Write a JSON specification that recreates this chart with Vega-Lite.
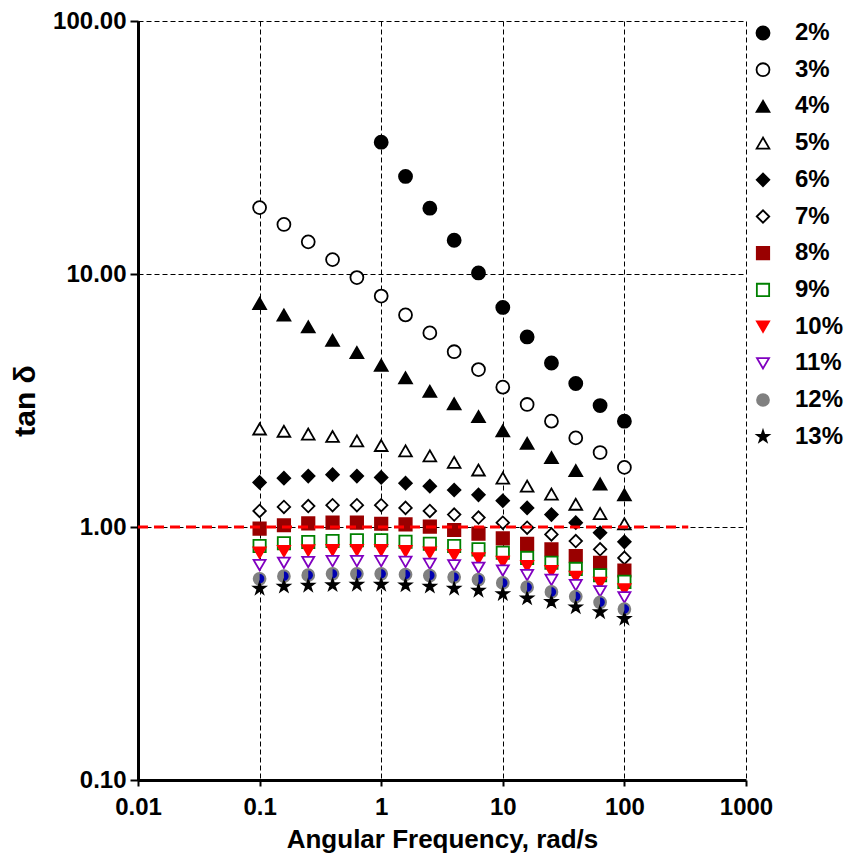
{
  "$schema": "https://vega.github.io/schema/vega-lite/v6.json",
  "width": 608,
  "height": 759,
  "autosize": {"type": "none"},
  "padding": {"left": 138, "top": 21, "right": 102, "bottom": 78},
  "background": "white",
  "config": {
    "view": {"stroke": null},
    "font": "Liberation Sans",
    "axis": {
      "domainColor": "black", "domainWidth": 3,
      "tickColor": "black", "tickWidth": 2,
      "grid": true, "gridColor": "black", "gridWidth": 1, "gridDash": [5, 3], "gridOpacity": 1,
      "labelColor": "black", "titleColor": "black",
      "labelFontWeight": "bold", "titleFontWeight": "bold"
    },
    "legend": {
      "title": null, "orient": "right", "offset": 5, "padding": 0,
      "labelFont": "Liberation Sans", "labelFontSize": 24, "labelFontWeight": "bold", "labelColor": "black",
      "labelOffset": 20, "rowPadding": 12.7, "symbolStrokeWidth": 1.8, "symbolOpacity": 1
    }
  },
  "datasets": {
    "pts": [
      {"s":"2%","f":1,"v":33.2},{"s":"2%","f":1.585,"v":24.3},{"s":"2%","f":2.512,"v":18.2},{"s":"2%","f":3.981,"v":13.6},{"s":"2%","f":6.31,"v":10.1},{"s":"2%","f":10,"v":7.38},{"s":"2%","f":15.85,"v":5.64},{"s":"2%","f":25.12,"v":4.45},{"s":"2%","f":39.81,"v":3.69},{"s":"2%","f":63.1,"v":3.02},{"s":"2%","f":100,"v":2.62},
      {"s":"3%","f":0.1,"v":18.3},{"s":"3%","f":0.1585,"v":15.7},{"s":"3%","f":0.2512,"v":13.4},{"s":"3%","f":0.3981,"v":11.4},{"s":"3%","f":0.631,"v":9.68},{"s":"3%","f":1,"v":8.18},{"s":"3%","f":1.585,"v":6.89},{"s":"3%","f":2.512,"v":5.85},{"s":"3%","f":3.981,"v":4.93},{"s":"3%","f":6.31,"v":4.19},{"s":"3%","f":10,"v":3.57},{"s":"3%","f":15.85,"v":3.05},{"s":"3%","f":25.12,"v":2.62},{"s":"3%","f":39.81,"v":2.25},{"s":"3%","f":63.1,"v":1.97},{"s":"3%","f":100,"v":1.72},
      {"s":"4%","f":0.1,"v":7.65},{"s":"4%","f":0.1585,"v":6.88},{"s":"4%","f":0.2512,"v":6.18},{"s":"4%","f":0.3981,"v":5.47},{"s":"4%","f":0.631,"v":4.89},{"s":"4%","f":1,"v":4.36},{"s":"4%","f":1.585,"v":3.89},{"s":"4%","f":2.512,"v":3.44},{"s":"4%","f":3.981,"v":3.07},{"s":"4%","f":6.31,"v":2.73},{"s":"4%","f":10,"v":2.40},{"s":"4%","f":15.85,"v":2.14},{"s":"4%","f":25.12,"v":1.88},{"s":"4%","f":39.81,"v":1.67},{"s":"4%","f":63.1,"v":1.48},{"s":"4%","f":100,"v":1.34},
      {"s":"5%","f":0.1,"v":2.44},{"s":"5%","f":0.1585,"v":2.39},{"s":"5%","f":0.2512,"v":2.33},{"s":"5%","f":0.3981,"v":2.28},{"s":"5%","f":0.631,"v":2.19},{"s":"5%","f":1,"v":2.10},{"s":"5%","f":1.585,"v":2.00},{"s":"5%","f":2.512,"v":1.91},{"s":"5%","f":3.981,"v":1.80},{"s":"5%","f":6.31,"v":1.68},{"s":"5%","f":10,"v":1.56},{"s":"5%","f":15.85,"v":1.45},{"s":"5%","f":25.12,"v":1.35},{"s":"5%","f":39.81,"v":1.23},{"s":"5%","f":63.1,"v":1.13},{"s":"5%","f":100,"v":1.03},
      {"s":"6%","f":0.1,"v":1.50},{"s":"6%","f":0.1585,"v":1.56},{"s":"6%","f":0.2512,"v":1.59},{"s":"6%","f":0.3981,"v":1.61},{"s":"6%","f":0.631,"v":1.59},{"s":"6%","f":1,"v":1.57},{"s":"6%","f":1.585,"v":1.49},{"s":"6%","f":2.512,"v":1.45},{"s":"6%","f":3.981,"v":1.40},{"s":"6%","f":6.31,"v":1.34},{"s":"6%","f":10,"v":1.27},{"s":"6%","f":15.85,"v":1.19},{"s":"6%","f":25.12,"v":1.12},{"s":"6%","f":39.81,"v":1.04},{"s":"6%","f":63.1,"v":0.949},{"s":"6%","f":100,"v":0.874},
      {"s":"7%","f":0.1,"v":1.157},{"s":"7%","f":0.1585,"v":1.20},{"s":"7%","f":0.2512,"v":1.21},{"s":"7%","f":0.3981,"v":1.22},{"s":"7%","f":0.631,"v":1.22},{"s":"7%","f":1,"v":1.22},{"s":"7%","f":1.585,"v":1.19},{"s":"7%","f":2.512,"v":1.157},{"s":"7%","f":3.981,"v":1.12},{"s":"7%","f":6.31,"v":1.09},{"s":"7%","f":10,"v":1.04},{"s":"7%","f":15.85,"v":0.994},{"s":"7%","f":25.12,"v":0.935},{"s":"7%","f":39.81,"v":0.880},{"s":"7%","f":63.1,"v":0.816},{"s":"7%","f":100,"v":0.755},
      {"s":"8%","f":0.1,"v":0.985},{"s":"8%","f":0.1585,"v":1.016},{"s":"8%","f":0.2512,"v":1.034},{"s":"8%","f":0.3981,"v":1.04},{"s":"8%","f":0.631,"v":1.04},{"s":"8%","f":1,"v":1.03},{"s":"8%","f":1.585,"v":1.025},{"s":"8%","f":2.512,"v":1.003},{"s":"8%","f":3.981,"v":0.973},{"s":"8%","f":6.31,"v":0.941},{"s":"8%","f":10,"v":0.902},{"s":"8%","f":15.85,"v":0.858},{"s":"8%","f":25.12,"v":0.816},{"s":"8%","f":39.81,"v":0.767},{"s":"8%","f":63.1,"v":0.722},{"s":"8%","f":100,"v":0.673},
      {"s":"9%","f":0.1,"v":0.841},{"s":"9%","f":0.1585,"v":0.862},{"s":"9%","f":0.2512,"v":0.872},{"s":"9%","f":0.3981,"v":0.880},{"s":"9%","f":0.631,"v":0.886},{"s":"9%","f":1,"v":0.886},{"s":"9%","f":1.585,"v":0.874},{"s":"9%","f":2.512,"v":0.858},{"s":"9%","f":3.981,"v":0.841},{"s":"9%","f":6.31,"v":0.816},{"s":"9%","f":10,"v":0.791},{"s":"9%","f":15.85,"v":0.755},{"s":"9%","f":25.12,"v":0.722},{"s":"9%","f":39.81,"v":0.683},{"s":"9%","f":63.1,"v":0.645},{"s":"9%","f":100,"v":0.607},
      {"s":"10%","f":0.1,"v":0.791},{"s":"10%","f":0.1585,"v":0.803},{"s":"10%","f":0.2512,"v":0.808},{"s":"10%","f":0.3981,"v":0.810},{"s":"10%","f":0.631,"v":0.810},{"s":"10%","f":1,"v":0.810},{"s":"10%","f":1.585,"v":0.803},{"s":"10%","f":2.512,"v":0.791},{"s":"10%","f":3.981,"v":0.774},{"s":"10%","f":6.31,"v":0.751},{"s":"10%","f":10,"v":0.728},{"s":"10%","f":15.85,"v":0.700},{"s":"10%","f":25.12,"v":0.669},{"s":"10%","f":39.81,"v":0.635},{"s":"10%","f":63.1,"v":0.601},{"s":"10%","f":100,"v":0.566},
      {"s":"11%","f":0.1,"v":0.707},{"s":"11%","f":0.1585,"v":0.722},{"s":"11%","f":0.2512,"v":0.727},{"s":"11%","f":0.3981,"v":0.733},{"s":"11%","f":0.631,"v":0.733},{"s":"11%","f":1,"v":0.733},{"s":"11%","f":1.585,"v":0.728},{"s":"11%","f":2.512,"v":0.715},{"s":"11%","f":3.981,"v":0.705},{"s":"11%","f":6.31,"v":0.690},{"s":"11%","f":10,"v":0.673},{"s":"11%","f":15.85,"v":0.645},{"s":"11%","f":25.12,"v":0.618},{"s":"11%","f":39.81,"v":0.589},{"s":"11%","f":63.1,"v":0.557},{"s":"11%","f":100,"v":0.527},
      {"s":"12%","f":0.1,"v":0.624},{"s":"12%","f":0.1585,"v":0.639},{"s":"12%","f":0.2512,"v":0.645},{"s":"12%","f":0.3981,"v":0.653},{"s":"12%","f":0.631,"v":0.653},{"s":"12%","f":1,"v":0.653},{"s":"12%","f":1.585,"v":0.649},{"s":"12%","f":2.512,"v":0.643},{"s":"12%","f":3.981,"v":0.634},{"s":"12%","f":6.31,"v":0.620},{"s":"12%","f":10,"v":0.601},{"s":"12%","f":15.85,"v":0.578},{"s":"12%","f":25.12,"v":0.554},{"s":"12%","f":39.81,"v":0.531},{"s":"12%","f":63.1,"v":0.504},{"s":"12%","f":100,"v":0.474},
      {"s":"13%","f":0.1,"v":0.571},{"s":"13%","f":0.1585,"v":0.582},{"s":"13%","f":0.2512,"v":0.587},{"s":"13%","f":0.3981,"v":0.590},{"s":"13%","f":0.631,"v":0.592},{"s":"13%","f":1,"v":0.592},{"s":"13%","f":1.585,"v":0.589},{"s":"13%","f":2.512,"v":0.582},{"s":"13%","f":3.981,"v":0.571},{"s":"13%","f":6.31,"v":0.561},{"s":"13%","f":10,"v":0.544},{"s":"13%","f":15.85,"v":0.523},{"s":"13%","f":25.12,"v":0.506},{"s":"13%","f":39.81,"v":0.482},{"s":"13%","f":63.1,"v":0.461},{"s":"13%","f":100,"v":0.434}
    ],
    "ref": [{"x": 0.01, "x2": 335, "y": 1}]
  },
  "layer": [
    {
      "data": {"name": "pts"},
      "mark": {"type": "point", "filled": true, "strokeWidth": 1.8, "opacity": 1},
      "encoding": {
        "x": {
          "field": "f", "type": "quantitative",
          "scale": {"type": "log", "domain": [0.01, 1000], "nice": false},
          "axis": {
            "title": "Angular Frequency, rad/s", "values": [0.01, 0.1, 1, 10, 100, 1000], "format": "~g",
            "labelFontSize": 24, "titleFontSize": 26,
            "tickSize": 6, "labelPadding": 9, "titlePadding": 7, "labelFlush": false
          }
        },
        "y": {
          "field": "v", "type": "quantitative",
          "scale": {"type": "log", "domain": [0.1, 100], "nice": false},
          "axis": {
            "title": "tan δ", "values": [0.1, 1, 10, 100], "format": ".2f",
            "labelFontSize": 24, "titleFontSize": 30, "tickSize": 8, "labelPadding": 4, "titlePadding": 12, "labelFlush": false
          }
        },
        "shape": {
          "field": "s", "type": "nominal",
          "scale": {
            "domain": ["2%","3%","4%","5%","6%","7%","8%","9%","10%","11%","12%","13%"],
            "range": ["circle","circle","triangle-up","triangle-up","diamond","diamond","square","square","triangle-down","triangle-down","circle",
              "M0,-1L0.2245,-0.309L0.951,-0.309L0.363,0.118L0.588,0.809L0,0.382L-0.588,0.809L-0.363,0.118L-0.951,-0.309L-0.2245,-0.309Z"]
          }
        },
        "fill": {
          "field": "s", "type": "nominal",
          "scale": {
            "domain": ["2%","3%","4%","5%","6%","7%","8%","9%","10%","11%","12%","13%"],
            "range": ["black","white","black","white","black","white","#990000","white","#ff0000","white","#808080","black"]
          }
        },
        "stroke": {
          "field": "s", "type": "nominal",
          "scale": {
            "domain": ["2%","3%","4%","5%","6%","7%","8%","9%","10%","11%","12%","13%"],
            "range": ["black","black","black","black","black","black","#990000","#008000","#ff0000","#8000c0","#808080","black"]
          }
        },
        "size": {
          "field": "s", "type": "nominal",
          "scale": {
            "domain": ["2%","3%","4%","5%","6%","7%","8%","9%","10%","11%","12%","13%"],
            "range": [170, 140, 200, 180, 220, 190, 175, 140, 200, 170, 170, 170]
          }
        }
      }
    },
    {
      "data": {"name": "pts"},
      "transform": [{"filter": "datum.s === '12%'"}],
      "mark": {"type": "point", "filled": true, "shape": "M0,-0.72A0.72,0.72 0 0,1 0,0.72Z", "fill": "#0000b0", "strokeWidth": 0, "size": 170, "opacity": 1},
      "encoding": {
        "x": {"field": "f", "type": "quantitative"},
        "y": {"field": "v", "type": "quantitative"}
      }
    },
    {
      "data": {"name": "ref"},
      "mark": {"type": "rule", "color": "#ff0000", "strokeWidth": 3, "strokeDash": [10, 6]},
      "encoding": {
        "x": {"field": "x", "type": "quantitative"},
        "x2": {"field": "x2"},
        "y": {"field": "y", "type": "quantitative"}
      }
    }
  ]
}
